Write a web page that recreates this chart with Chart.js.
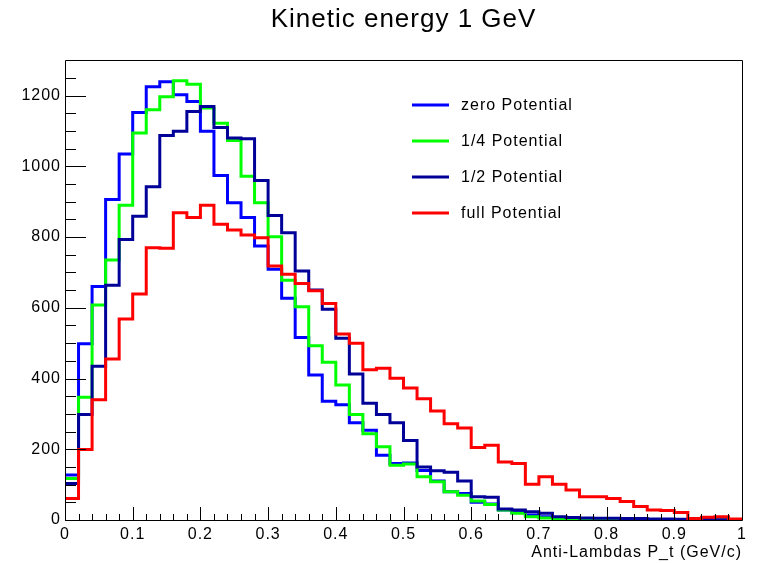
<!DOCTYPE html>
<html>
<head>
<meta charset="utf-8">
<script src="https://cdn.jsdelivr.net/npm/chart.js@4.4.1/dist/chart.umd.min.js"></script>
<style>
  html, body { margin: 0; padding: 0; background: #fff; }
  canvas { display: block; }
</style>
</head>
<body>
<canvas id="ptChart" width="758" height="563"></canvas>
<script>
// low edges of the 50 P_t bins (GeV/c)
const binLow = [0.00, 0.02, 0.04, 0.06, 0.08, 0.10, 0.12, 0.14, 0.16, 0.18,
                0.20, 0.22, 0.24, 0.26, 0.28, 0.30, 0.32, 0.34, 0.36, 0.38,
                0.40, 0.42, 0.44, 0.46, 0.48, 0.50, 0.52, 0.54, 0.56, 0.58,
                0.60, 0.62, 0.64, 0.66, 0.68, 0.70, 0.72, 0.74, 0.76, 0.78,
                0.80, 0.82, 0.84, 0.86, 0.88, 0.90, 0.92, 0.94, 0.96, 0.98];
const binHigh = 1.0;

const zeroPot = [127, 498, 660, 906, 1035, 1152, 1225, 1239, 1202, 1183,
                 1099, 974, 897, 855, 775, 709, 627, 516, 410, 336,
                 326, 275, 254, 183, 160, 161, 140, 110, 80, 75,
                 50, 45, 28, 22, 14, 9, 6, 4, 3, 2,
                 1, 1, 1, 1, 0, 0, 0, 0, 0, 0];
const quarterPot = [117, 347, 608, 735, 890, 1094, 1160, 1197, 1242, 1232,
                    1165, 1122, 1073, 972, 897, 801, 678, 603, 493, 446,
                    382, 298, 244, 207, 155, 158, 122, 108, 80, 70,
                    54, 44, 28, 19, 9, 6, 4, 3, 2, 2,
                    1, 1, 1, 1, 1, 0, 0, 0, 0, 0];
const halfPot = [103, 298, 435, 664, 793, 859, 942, 1087, 1099, 1155,
                 1169, 1110, 1080, 1078, 960, 861, 812, 704, 650, 596,
                 514, 413, 330, 298, 275, 225, 150, 139, 135, 110,
                 66, 64, 31, 28, 23, 19, 9, 7, 6, 5,
                 5, 4, 4, 3, 3, 2, 2, 2, 1, 1];
const fullPot = [61, 199, 340, 455, 568, 639, 770, 768, 869, 855,
                 890, 836, 820, 806, 798, 718, 695, 669, 648, 612,
                 526, 500, 425, 429, 401, 373, 343, 308, 272, 260,
                 205, 211, 164, 160, 101, 122, 101, 85, 66, 66,
                 61, 52, 38, 28, 27, 21, 4, 8, 9, 3];

const seriesNames = ['zero Potential', '1/4 Potential', '1/2 Potential', 'full Potential'];
const seriesColors = ['#0000ff', '#00ff00', '#000099', '#ff0000'];
const yTickValues = [0, 200, 400, 600, 800, 1000, 1200];

// histogram outline: one point per low edge plus the closing upper edge
function histPoints(values) {
    const pts = binLow.map((x, i) => ({ x: x, y: values[i] }));
    pts.push({ x: binHigh, y: values[values.length - 1] });
    return pts;
}

Chart.defaults.font.family = "'Liberation Sans', Arial, Helvetica, sans-serif";
Chart.defaults.color = '#000';

const allSeries = [zeroPot, quarterPot, halfPot, fullPot];
const datasets = allSeries.map((vals, i) => ({
    label: seriesNames[i],
    data: histPoints(vals),
    borderColor: seriesColors[i],
    backgroundColor: seriesColors[i],
    borderWidth: 3,
    stepped: true,
    fill: false,
    pointRadius: 0,
    order: allSeries.length - i
}));

// slightly wider text spacing, applied before measuring and drawing
const textSpacing = {
    id: 'textSpacing',
    beforeUpdate(chart) { chart.ctx.letterSpacing = '1px'; },
    beforeDraw(chart) { chart.ctx.letterSpacing = '1px'; }
};

// ROOT-like frame with inward ticks
const frameTicks = {
    id: 'frameTicks',
    afterDatasetsDraw(chart) {
        const { ctx, chartArea: a, scales } = chart;
        const xs = scales.x, ys = scales.y;
        ctx.save();
        ctx.strokeStyle = '#000';
        ctx.lineWidth = 1;
        ctx.beginPath();
        ctx.rect(Math.round(a.left) + 0.5, Math.round(a.top) + 0.5,
                 Math.round(a.right - a.left), Math.round(a.bottom - a.top));
        ctx.stroke();

        ctx.beginPath();
        for (let v = 0; v <= 1250; v += 50) {
            const y = Math.round(ys.getPixelForValue(v)) + 0.5;
            const len = (v % 200 === 0) ? 21 : 11;
            ctx.moveTo(a.left, y);
            ctx.lineTo(a.left + len, y);
        }
        for (let k = 0; k <= 50; k++) {
            const x = Math.round(xs.getPixelForValue(k * 0.02)) + 0.5;
            const len = (k % 5 === 0) ? 13 : 6;
            ctx.moveTo(x, a.bottom);
            ctx.lineTo(x, a.bottom - len);
        }
        ctx.stroke();
        ctx.restore();
    }
};

const boxLegend = {
    id: 'boxLegend',
    afterDraw(chart) {
        const ctx = chart.ctx;
        const rows = [105, 141, 177, 213];
        ctx.save();
        ctx.font = "16px 'Liberation Sans', Arial, sans-serif";
        ctx.textBaseline = 'middle';
        ctx.textAlign = 'left';
        chart.data.datasets.forEach((ds, i) => {
            const y = rows[i];
            ctx.strokeStyle = ds.borderColor;
            ctx.lineWidth = 3;
            ctx.beginPath();
            ctx.moveTo(412, y);
            ctx.lineTo(449, y);
            ctx.stroke();
            ctx.fillStyle = '#000';
            ctx.fillText(ds.label, 461, y + 1);
        });
        ctx.restore();
    }
};

const ptChart = new Chart(document.getElementById('ptChart'), {
    type: 'line',
    data: { datasets: datasets },
    options: {
        responsive: false,
        animation: false,
        events: [],
        layout: { padding: { left: 0, right: 16, top: 0, bottom: 0 } },
        scales: {
            x: {
                type: 'linear',
                min: 0,
                max: 1,
                grid: { display: false, drawTicks: false },
                border: { display: false },
                ticks: {
                    stepSize: 0.1,
                    autoSkip: false,
                    maxRotation: 0,
                    padding: 5,
                    font: { size: 16 },
                    callback: (v) => String(Number(v.toFixed(1)))
                },
                title: {
                    display: true,
                    text: 'Anti-Lambdas P_t (GeV/c)',
                    align: 'end',
                    font: { size: 16 },
                    padding: { top: 0, bottom: 1 }
                },
                afterFit: (scale) => { scale.height = 43; }
            },
            y: {
                min: 0,
                max: 1300,
                grid: { display: false, drawTicks: false },
                border: { display: false },
                afterBuildTicks: (scale) => {
                    scale.ticks = yTickValues.map(v => ({ value: v }));
                },
                ticks: {
                    padding: 4,
                    font: { size: 16 },
                    callback: (v) => String(v)
                },
                afterFit: (scale) => { scale.width = 65; }
            }
        },
        plugins: {
            legend: { display: false },
            tooltip: { enabled: false },
            title: {
                display: true,
                text: 'Kinetic energy 1 GeV',
                fullSize: false,
                font: { size: 26, weight: 'normal' },
                padding: { top: 4, bottom: 25 }
            }
        }
    },
    plugins: [textSpacing, frameTicks, boxLegend]
});
</script>
</body>
</html>
